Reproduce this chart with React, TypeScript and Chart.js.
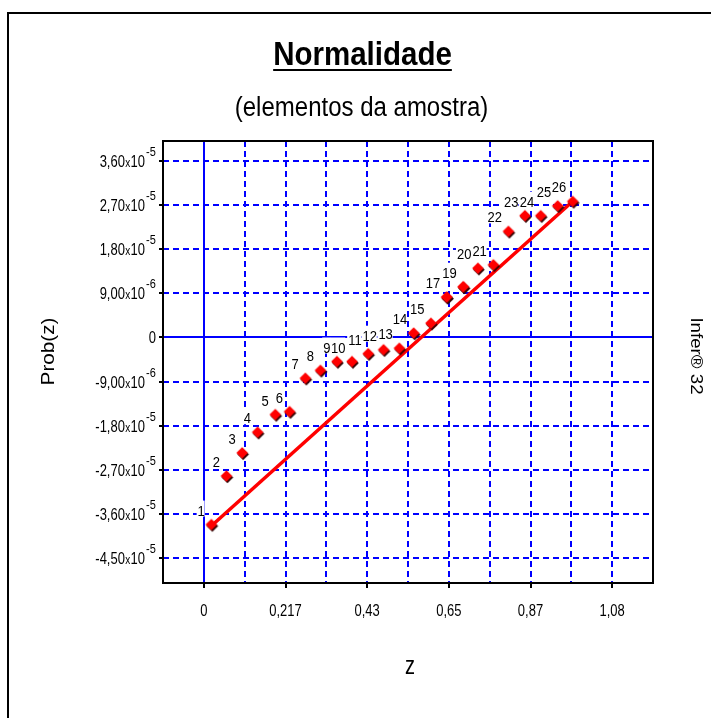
import React, { useEffect, useRef } from "react";
import { Chart, registerables } from "chart.js";

Chart.register(...registerables);

// ---- data ----
const pointLabels = ["1","2","3","4","5","6","7","8","9","10","11","12","13","14","15","16","17","18","19","20","21","22","23","24","25","26"];
const zValues = [0.020, 0.060, 0.102, 0.143, 0.190, 0.228, 0.270, 0.310, 0.354, 0.394, 0.437, 0.478, 0.520, 0.558, 0.604, 0.646, 0.646, 0.690, 0.690, 0.729, 0.770, 0.810, 0.854, 0.896, 0.941, 0.981];
const probValues = [-38.1e-6, -28.2e-6, -23.5e-6, -19.3e-6, -15.7e-6, -15.1e-6, -8.3e-6, -6.7e-6, -4.9e-6, -4.9e-6, -3.3e-6, -2.5e-6, -2.2e-6, 0.9e-6, 2.9e-6, 8.2e-6, 8.2e-6, 10.3e-6, 10.3e-6, 14.1e-6, 14.8e-6, 21.6e-6, 24.8e-6, 24.8e-6, 26.8e-6, 27.7e-6];
const lineZ = [0.0197, 0.985];
const lineProb = [-38.4e-6, 28.0e-6];

const X_MIN = -0.1086;
const X_MAX = 1.1946;
const X_HALF_STEP = 0.1086;
const xTickLabels = ["0", "0,217", "0,43", "0,65", "0,87", "1,08"];

const Y_MIN = -5e-5;
const Y_MAX = 4e-5;
const yTickValues = [-4.5e-5, -3.6e-5, -2.7e-5, -1.8e-5, -9e-6, 0, 9e-6, 1.8e-5, 2.7e-5, 3.6e-5];
const yTickMantissas = ["-4,50", "-3,60", "-2,70", "-1,80", "-9,00", "0", "9,00", "1,80", "2,70", "3,60"];
const yTickExponents = ["-5", "-5", "-5", "-5", "-6", "", "-6", "-5", "-5", "-5"];

const TITLE = "Normalidade";
const SUBTITLE = "(elementos da amostra)";
const Y_TITLE = "Prob(z)";
const X_TITLE = "z";
const SIDE_TEXT = "Infer® 32";

const BLUE = "#0000ff";
const FONT = "'Liberation Sans', Arial, sans-serif";

function drawText(ctx: CanvasRenderingContext2D, s: string, x: number, y: number, font: string, align: CanvasTextAlign, sx = 1, sy = 1, rot = 0) {
  ctx.save();
  ctx.translate(x, y);
  if (rot) ctx.rotate(rot);
  ctx.scale(sx, sy);
  ctx.font = font;
  ctx.textAlign = align;
  ctx.textBaseline = "alphabetic";
  ctx.fillStyle = "#000";
  ctx.fillText(s, 0, 0);
  ctx.restore();
}

function makePointImage() {
  const c = document.createElement("canvas");
  c.width = 16;
  c.height = 16;
  const g = c.getContext("2d")!;
  const diamond = (cx: number, cy: number, r: number, col: string) => {
    g.beginPath();
    g.moveTo(cx, cy - r);
    g.lineTo(cx + r, cy);
    g.lineTo(cx, cy + r);
    g.lineTo(cx - r, cy);
    g.closePath();
    g.fillStyle = col;
    g.fill();
  };
  diamond(9, 9.5, 5.8, "#300000");
  diamond(8, 8, 5.8, "#ff0000");
  return c;
}

const decorPlugin = {
  id: "decor",
  beforeDraw(chart: any) {
    const ctx = chart.ctx as CanvasRenderingContext2D;
    ctx.save();
    ctx.fillStyle = "#fff";
    ctx.fillRect(0, 0, chart.width, chart.height);
    ctx.fillStyle = "#000";
    ctx.fillRect(7, 12, 2, chart.height - 12);
    ctx.fillRect(7, 12, chart.width - 7, 2);
    ctx.restore();
  },
  afterDatasetsDraw(chart: any) {
    const ctx = chart.ctx as CanvasRenderingContext2D;
    const meta = chart.getDatasetMeta(0);
    ctx.save();
    const f = `13px ${FONT}`;
    ctx.font = f;
    ctx.textAlign = "right";
    meta.data.forEach((el: any, i: number) => {
      const label = pointLabels[i];
      const m = ctx.measureText(label);
      const right = el.x - 6.5;
      const base = el.y - 9;
      const inkL = right - m.actualBoundingBoxLeft;
      const inkR = right + m.actualBoundingBoxRight;
      ctx.fillStyle = "#fff";
      ctx.fillRect(inkL - 1, el.y - 24, inkR - inkL + 1, 16);
      drawText(ctx, label, right, base, f, "right", 1, 1.15);
      ctx.font = f;
      ctx.textAlign = "right";
    });
    ctx.restore();
  },
  afterDraw(chart: any) {
    const ctx = chart.ctx as CanvasRenderingContext2D;
    const a = chart.chartArea;
    const xs = chart.scales.x;
    const ys = chart.scales.y;
    ctx.save();
    ctx.strokeStyle = "#000";
    ctx.lineWidth = 2;
    ctx.strokeRect(a.left, a.top, a.right - a.left, a.bottom - a.top);

    const tf = `bold 29.5px ${FONT}`;
    drawText(ctx, TITLE, 362.5, 65, tf, "center", 1, 1.1);
    ctx.font = tf;
    const tw = ctx.measureText(TITLE).width;
    ctx.fillStyle = "#000";
    ctx.fillRect(362.5 - tw / 2, 69, tw, 2);

    drawText(ctx, SUBTITLE, 361.5, 116, `24px ${FONT}`, "center", 1, 1.15);

    drawText(ctx, Y_TITLE, 54, 351.5, `18px ${FONT}`, "center", 1.15, 1, -Math.PI / 2);
    drawText(ctx, X_TITLE, 410, 674, `20px ${FONT}`, "center", 1, 1.25);
    drawText(ctx, SIDE_TEXT, 691, 356, `17px ${FONT}`, "center", 1.1, 1, Math.PI / 2);

    xTickLabels.forEach((lab, i) => {
      const px = xs.getPixelForValue(i * 2 * X_HALF_STEP);
      drawText(ctx, lab, px, 616, `13px ${FONT}`, "center", 1, 1.3);
    });

    const mf = `13px ${FONT}`;
    const xf = `10px ${FONT}`;
    const ef = `11px ${FONT}`;
    yTickValues.forEach((v, i) => {
      const py = ys.getPixelForValue(v);
      const mant = yTickMantissas[i];
      const ex = yTickExponents[i];
      if (!ex) {
        drawText(ctx, mant, 156, py + 6, mf, "right", 1, 1.3);
        return;
      }
      const right = 145;
      ctx.font = mf;
      const w10 = ctx.measureText("10").width;
      ctx.font = xf;
      const wx = ctx.measureText("x").width;
      drawText(ctx, "10", right, py + 6, mf, "right", 1, 1.3);
      drawText(ctx, "x", right - w10 - 0.3, py + 6, xf, "right", 1, 1.2);
      drawText(ctx, mant, right - w10 - wx - 0.6, py + 6, mf, "right", 1, 1.3);
      drawText(ctx, ex, right + 1, py - 5, ef, "left", 1, 1.2);
    });
    ctx.restore();
  },
};

export default function App() {
  const ref = useRef<HTMLCanvasElement | null>(null);
  useEffect(() => {
    if (!ref.current) return;
    const img = makePointImage();
    const pts = zValues.map((z, i) => ({ x: z, y: probValues[i] }));
    const line = lineZ.map((z, i) => ({ x: z, y: lineProb[i] }));
    const xGridValues: number[] = [];
    for (let k = 0; k <= 10; k++) xGridValues.push(k * X_HALF_STEP);

    const isZero = (c: any) => c && c.tick && Math.abs(c.tick.value) < 1e-12;

    const chart = new Chart(ref.current, {
      type: "scatter",
      data: {
        datasets: [
          {
            data: pts,
            pointStyle: img as any,
            pointRadius: 6,
            showLine: false,
          },
          {
            data: line,
            showLine: true,
            pointRadius: 0,
            borderColor: "#ff0000",
            borderWidth: 3.5,
            backgroundColor: "#ff0000",
          },
        ],
      },
      options: {
        animation: false,
        responsive: false,
        devicePixelRatio: 1,
        layout: { padding: { left: 159, top: 141, right: 58, bottom: 130 } },
        plugins: { legend: { display: false }, tooltip: { enabled: false }, title: { display: false } },
        scales: {
          x: {
            type: "linear",
            position: "bottom",
            min: X_MIN,
            max: X_MAX,
            afterBuildTicks: (s: any) => {
              s.ticks = xGridValues.map((v) => ({ value: v }));
            },
            ticks: { display: false },
            border: {
              display: false,
              dash: (c: any) => (isZero(c) ? [] : [6, 4]),
            },
            grid: {
              color: BLUE,
              lineWidth: 2,
              drawTicks: true,
              tickLength: 5,
              tickWidth: 2,
              tickColor: (c: any) => (c.index % 2 === 0 ? "#000" : "rgba(0,0,0,0)"),
            },
          },
          y: {
            type: "linear",
            position: "left",
            min: Y_MIN,
            max: Y_MAX,
            afterBuildTicks: (s: any) => {
              s.ticks = yTickValues.map((v) => ({ value: v }));
            },
            ticks: { display: false },
            border: {
              display: false,
              dash: (c: any) => (isZero(c) ? [] : [6, 4]),
            },
            grid: {
              color: BLUE,
              lineWidth: 2,
              drawTicks: true,
              tickLength: 4,
              tickWidth: 2,
              tickColor: "#000",
            },
          },
        },
      },
      plugins: [decorPlugin],
    });
    return () => chart.destroy();
  }, []);

  return (
    <div style={{ position: "absolute", left: 0, top: 0, width: 711, height: 718 }}>
      <canvas ref={ref} width={711} height={718} style={{ display: "block", width: 711, height: 718 }} />
    </div>
  );
}
